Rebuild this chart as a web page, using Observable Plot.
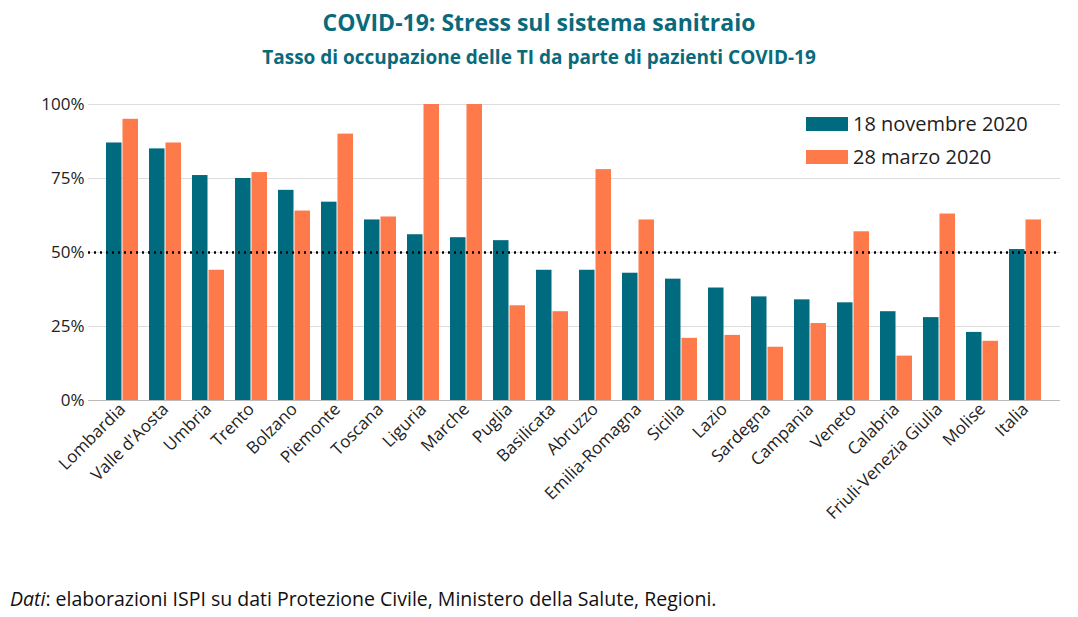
<!DOCTYPE html>
<html><head><meta charset="utf-8">
<script src="https://cdn.jsdelivr.net/npm/d3@7"></script>
<script src="https://cdn.jsdelivr.net/npm/@observablehq/plot@0.6"></script>
<style>
body{margin:0;width:1078px;height:617px;background:#fff;font-family:"Open Sans",sans-serif;position:relative;overflow:hidden}
#t{position:absolute;top:6px;width:100%;text-align:center;color:#0a6a7c;font-weight:bold;font-size:23px}
#s{position:absolute;top:44px;width:100%;text-align:center;color:#0a6a7c;font-weight:bold;font-size:19px}
#c{position:absolute;top:585px;left:10px;font-size:19.5px;color:#111}
#chart{position:absolute;top:90px;left:0}
.lg{position:absolute;left:806px;font-size:20px;color:#222;display:flex;align-items:center}
.lg span{display:inline-block;width:42px;height:14px;margin-right:5px}
</style></head><body>
<div id="t">COVID-19: Stress sul sistema sanitraio</div>
<div id="s">Tasso di occupazione delle TI da parte di pazienti COVID-19</div>
<div id="chart"></div>
<div class="lg" style="top:110px"><span style="background:#006a7f"></span>18 novembre 2020</div>
<div class="lg" style="top:143px"><span style="background:#ff7a4a"></span>28 marzo 2020</div>
<div id="c"><i>Dati</i>: elaborazioni ISPI su dati Protezione Civile, Ministero della Salute, Regioni.</div>
<script>
const regions=["Lombardia","Valle d'Aosta","Umbria","Trento","Bolzano","Piemonte","Toscana","Liguria","Marche","Puglia","Basilicata","Abruzzo","Emilia-Romagna","Sicilia","Lazio","Sardegna","Campania","Veneto","Calabria","Friuli-Venezia Giulia","Molise","Italia"];
const nov=[87,85,76,75,71,67,61,56,55,54,44,44,43,41,38,35,34,33,30,28,23,51];
const mar=[95,87,44,77,64,90,62,100,100,32,30,78,61,21,22,18,26,57,15,63,20,61];
const dNov=regions.map((r,i)=>({r,v:nov[i]}));
const dMar=regions.map((r,i)=>({r,v:mar[i]}));
const plot=Plot.plot({
  width:1078,height:460,marginTop:14,marginBottom:150,marginLeft:88,marginRight:18,
  style:{fontFamily:"'Open Sans', sans-serif",fontSize:"17px",color:"#222"},
  x:{domain:regions,padding:0.25,label:null,tickRotate:-45,tickSize:0,tickPadding:6},
  y:{domain:[0,100],ticks:[0,25,50,75,100],tickFormat:d=>d+"%",label:null,tickSize:0,tickPadding:4},
  marks:[
    Plot.gridY([25,50,75,100],{stroke:"#ddd",strokeOpacity:1}),
    Plot.ruleY([0],{stroke:"#bbb"}),
    Plot.barY(dNov,{x:"r",y:"v",fill:"#006a7f",insetRight:16.5}),
    Plot.barY(dMar,{x:"r",y:"v",fill:"#ff7a4a",insetLeft:16.5}),
    Plot.ruleY([50],{stroke:"#000",strokeWidth:2.5,strokeDasharray:"2,4"})
  ]
});
document.getElementById("chart").append(plot);
</script>
</body></html>
